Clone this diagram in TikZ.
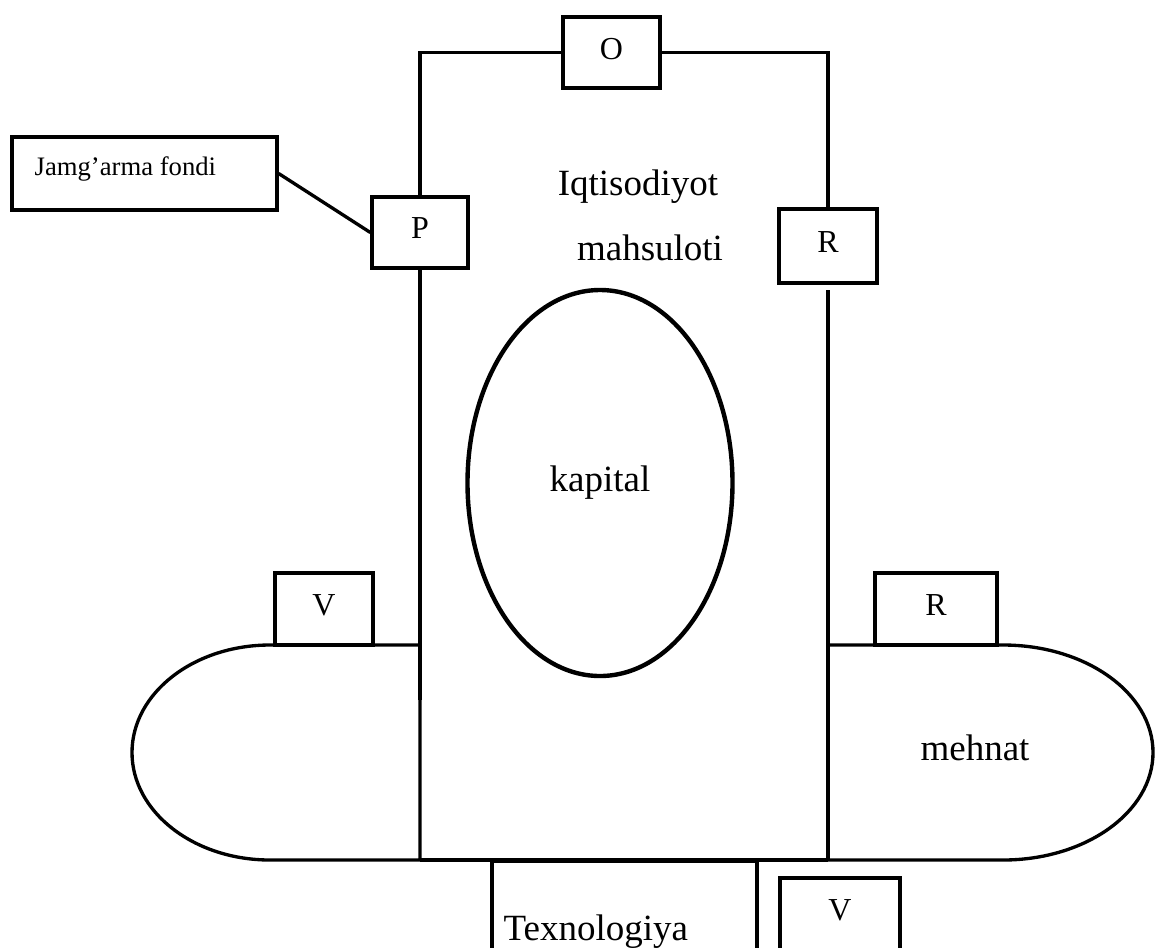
\documentclass[tikz,border=0pt]{standalone}
\usepackage{fontspec}
\setmainfont{Liberation Serif}
\usetikzlibrary{shapes.geometric}

\begin{document}
\begin{tikzpicture}[x=0.75pt, y=-0.75pt, line width=2.5pt,
    box/.style={draw, inner sep=0pt, font=\fontsize{24}{28}\selectfont, text depth=6pt},
    bigtext/.style={inner sep=0pt, font=\fontsize{27.75}{32}\selectfont}]

        \useasboundingbox (0,0) rectangle (1155,947);
        \clip (0,0) rectangle (1155,947);

        % Boxes on the frame
        \node[box, minimum width=72.75pt, minimum height=53.25pt] (O) at (611.5,52.5) {O};
        \node[box, minimum width=72pt, minimum height=53.25pt] (P) at (420,232.5) {P};
        \node[box, minimum width=73.5pt, minimum height=55.5pt] (R1) at (828,246) {R};

        % Saving fund
        \node[box, minimum width=198.75pt, minimum height=54.75pt] (fond) at (144.5,173.5) {};
        \node[anchor=base west, inner sep=0pt, font=\fontsize{20}{24}\selectfont] (fondtext) at (33,175) {Jamg’arma fondi};
        \draw (fond.east) -- (P.west);

        % Frame
        \coordinate (pbot) at (421.5,700);
        \coordinate (rtop) at (828,290);
        \coordinate (rbot) at (828,860);
        \draw (P.north) -- (P.north |- O.west) -- (O.west);
        \draw (O.east) -- (R1.north |- O.east) -- (R1.north);
        \draw (P.south) -- (P.south |- pbot);
        \draw (rtop) -- (rbot);
        \draw (420,860) -- (rbot);

        % Product text
        \node[bigtext, anchor=base] (iqt) at (638,195) {Iqtisodiyot};
        \node[bigtext, anchor=base] (mah) at (650,260) {mahsuloti};

        % Capital
        \node[draw, ellipse, line width=3.3pt, minimum width=198.75pt, minimum height=289.5pt, bigtext] (kap) at (600,483) {kapital};

        % Left lobe
        \draw (420,645) -- (270,645) arc[start angle=90, end angle=270, x radius=103.5pt, y radius=80.625pt] -- (420,860) -- cycle;
        \node[box, minimum width=73.5pt, minimum height=54pt] (V1) at (324,609) {V};

        % Right lobe
        \draw (828,645) -- (1003,645) arc[start angle=90, end angle=-90, x radius=112.5pt, y radius=80.625pt] -- (rbot) -- cycle;
        \node[box, minimum width=91.5pt, minimum height=54pt] (R2) at (936,609) {R};
        \node[bigtext, anchor=base] (meh) at (975,760) {mehnat};

        % Technology
        \node[draw, minimum width=198.75pt, minimum height=90pt, anchor=north] (tex) at (624.5,860) {};
        \node[bigtext, anchor=base west] (textext) at (502,940) {Texnologiya};
        \node[box, minimum width=90pt, minimum height=69pt, text depth=21pt] (V2) at (840,924) {V};

    \end{tikzpicture}
\end{document}
